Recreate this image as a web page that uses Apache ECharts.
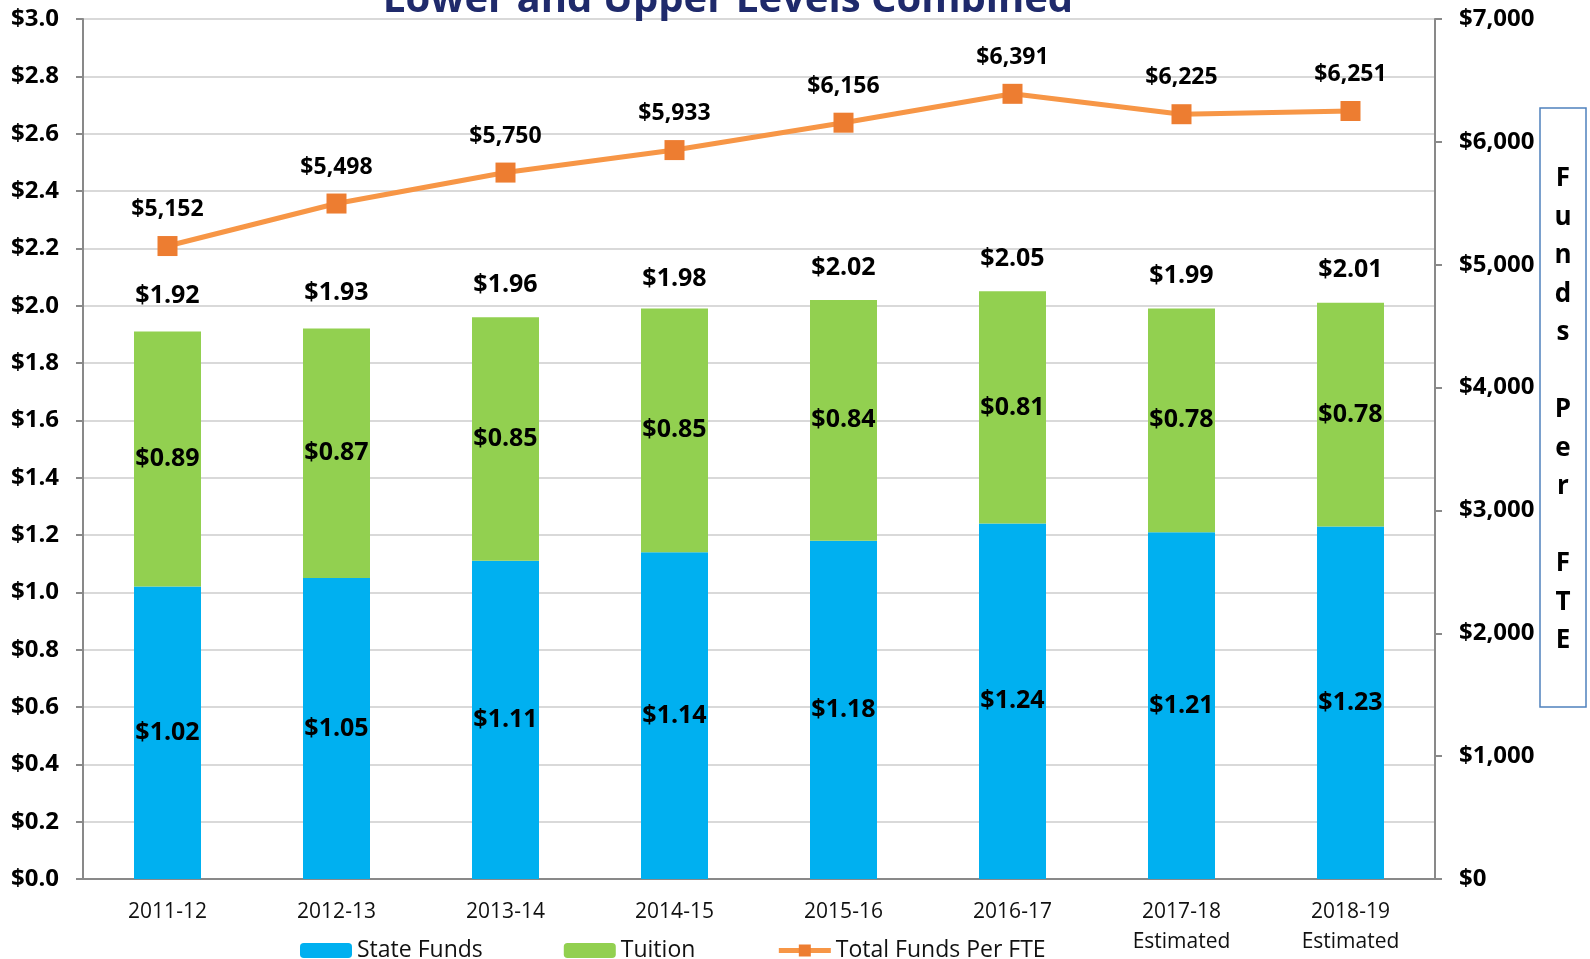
<!DOCTYPE html>
<html>
<head>
<meta charset="utf-8">
<script src="https://cdn.jsdelivr.net/npm/echarts@6/dist/echarts.min.js"></script>
<style>
  html, body { margin: 0; padding: 0; background: #fff; }
  #chart { width: 1590px; height: 959px; }
</style>
</head>
<body>
<div id="chart"></div>
<script>
const years = ['2011-12', '2012-13', '2013-14', '2014-15', '2015-16', '2016-17', '2017-18\nEstimated', '2018-19\nEstimated']
const stateFunds = [1.02, 1.05, 1.11, 1.14, 1.18, 1.24, 1.21, 1.23]
const tuition = [0.89, 0.87, 0.85, 0.85, 0.84, 0.81, 0.78, 0.78]
const totals = [1.92, 1.93, 1.96, 1.98, 2.02, 2.05, 1.99, 2.01]
const perFte = [5152, 5498, 5750, 5933, 6156, 6391, 6225, 6251]
const sideLetters = ['F', 'u', 'n', 'd', 's', '', 'P', 'e', 'r', '', 'F', 'T', 'E']

const font = "'Open Sans', 'Liberation Sans', sans-serif"
const axisGray = '#898989'

const chart = echarts.init(document.getElementById('chart'))

const money2 = (v) => '$' + v.toFixed(2)

chart.setOption({
  animation: false,
  textStyle: { fontFamily: font },
  grid: { left: 83, right: 155, top: 19, bottom: 80 },
  legend: {
    data: [
      { name: 'State Funds' },
      { name: 'Tuition' },
      { name: 'Total Funds Per FTE', lineStyle: { width: 5 } }
    ],
    left: 295,
    top: 934,
    itemWidth: 52,
    itemHeight: 15,
    itemGap: 81,
    textStyle: { fontSize: 23, color: '#111', fontFamily: font }
  },
  graphic: [
    {
      type: 'text',
      style: {
        x: 728,
        y: 21,
        text: 'Lower and Upper Levels Combined',
        fill: '#1F2A6B',
        font: "bold 40px 'Open Sans'",
        textAlign: 'center',
        textVerticalAlign: 'bottom'
      },
      z: 100
    },
    {
      type: 'rect',
      shape: { x: 1540, y: 108, width: 46, height: 599 },
      style: { fill: '#fff', stroke: '#4F81BD', lineWidth: 1.5 }
    },
    {
      type: 'text',
      style: {
        x: 1563,
        y: 410,
        text: sideLetters.join('\n'),
        fill: '#000',
        font: "bold 26px 'Open Sans'",
        lineHeight: 38.5,
        textAlign: 'center',
        textVerticalAlign: 'middle'
      }
    }
  ],
  xAxis: {
    type: 'category',
    data: years,
    axisLine: { lineStyle: { color: axisGray, width: 2 } },
    axisTick: { length: 7, lineStyle: { color: axisGray, width: 2 } },
    axisLabel: { fontSize: 21, color: '#111', margin: 18, lineHeight: 30, fontFamily: font }
  },
  yAxis: [
    {
      type: 'value',
      min: 0,
      max: 3,
      interval: 0.2,
      axisLine: { show: true, lineStyle: { color: axisGray, width: 2 } },
      axisTick: { show: true, length: 7, lineStyle: { color: axisGray, width: 2 } },
      splitLine: { lineStyle: { color: '#D9D9D9', width: 2 } },
      axisLabel: {
        fontSize: 24,
        fontWeight: 'bold',
        color: '#000',
        margin: 24,
        formatter: (v) => '$' + v.toFixed(1)
      }
    },
    {
      type: 'value',
      min: 0,
      max: 7000,
      interval: 1000,
      axisLine: { show: true, lineStyle: { color: axisGray, width: 2 } },
      axisTick: { show: true, length: 7, lineStyle: { color: axisGray, width: 2 } },
      splitLine: { show: false },
      axisLabel: {
        fontSize: 24,
        fontWeight: 'bold',
        color: '#000',
        margin: 24,
        formatter: (v) => '$' + v.toLocaleString('en-US')
      }
    }
  ],
  series: [
    {
      name: 'Total',
      type: 'bar',
      data: totals,
      barWidth: 67,
      barGap: '-100%',
      z: 1,
      itemStyle: { color: 'rgba(0,0,0,0)' },
      label: {
        show: true,
        position: 'top',
        distance: 20,
        fontSize: 25,
        fontWeight: 'bold',
        color: '#000',
        formatter: (p) => money2(p.value)
      }
    },
    {
      name: 'State Funds',
      type: 'bar',
      stack: 'funds',
      data: stateFunds,
      barWidth: 67,
      z: 2,
      itemStyle: { color: '#00B0F0' },
      label: {
        show: true,
        position: 'inside',
        fontSize: 25,
        fontWeight: 'bold',
        color: '#000',
        formatter: (p) => money2(p.value)
      }
    },
    {
      name: 'Tuition',
      type: 'bar',
      stack: 'funds',
      data: tuition,
      barWidth: 67,
      z: 2,
      itemStyle: { color: '#92D050' },
      label: {
        show: true,
        position: 'inside',
        fontSize: 25,
        fontWeight: 'bold',
        color: '#000',
        formatter: (p) => money2(p.value)
      }
    },
    {
      name: 'Total Funds Per FTE',
      type: 'line',
      yAxisIndex: 1,
      data: perFte,
      z: 5,
      symbol: 'rect',
      symbolSize: 20,
      lineStyle: { color: '#F79646', width: 5 },
      itemStyle: { color: '#ED7D31' },
      label: {
        show: true,
        position: 'top',
        distance: 15,
        fontSize: 23,
        fontWeight: 'bold',
        color: '#000',
        formatter: (p) => '$' + p.value.toLocaleString('en-US')
      }
    }
  ]
})

window.addEventListener('resize', () => {
  chart.resize()
})
</script>
</body>
</html>
